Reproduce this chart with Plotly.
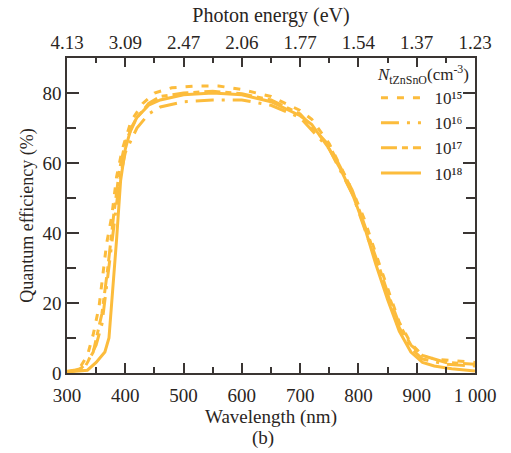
import plotly.graph_objects as go

# Quantum efficiency (%) vs wavelength (nm) for four tZnSnO doping levels
wl_15 = [300, 320, 335, 345, 355, 362, 368, 377, 385, 395, 410, 430, 450, 480, 520, 560, 600, 650, 700, 720, 750, 790, 810, 830, 850, 870, 890, 910, 930, 960, 1000]
qe_15 = [0.5, 1.0, 5, 11, 19, 29, 37, 45, 56, 64, 72, 77, 80, 81.5, 82, 82, 81, 79, 75, 72.5, 65.5, 52, 44, 34, 24, 14.5, 8.5, 5, 4, 3.5, 3]

wl_16 = [300, 320, 335, 350, 360, 370, 380, 390, 400, 420, 440, 460, 500, 550, 600, 650, 700, 750, 790, 830, 850, 870, 890, 910, 950, 1000]
qe_16 = [0.3, 0.8, 3, 8, 14, 28, 42, 55, 63, 70, 74, 76, 77.5, 78, 78, 76.5, 73, 64, 51, 32, 22, 13, 7, 4, 2.5, 2]

wl_17 = [300, 330, 345, 360, 370, 380, 390, 400, 420, 440, 460, 500, 550, 600, 650, 700, 750, 790, 830, 850, 870, 890, 910, 950, 1000]
qe_17 = [0.3, 1.5, 6, 17, 30, 45, 58, 66, 73, 77, 79, 80, 80.5, 79.8, 78, 74, 65, 52, 33, 23, 14, 8, 5, 3, 2.5]

wl_18 = [300, 320, 335, 350, 365, 372, 378, 385, 392, 400, 410, 420, 440, 460, 500, 550, 600, 650, 700, 720, 750, 770, 790, 810, 830, 850, 870, 890, 910, 930, 960, 1000]
qe_18 = [0.3, 0.5, 0.8, 3, 6, 10, 22, 38, 55, 64, 70, 73, 76.5, 78, 79.5, 80, 79.5, 77.5, 73.5, 71, 64, 58, 51, 42, 31, 21, 12, 6, 3, 2, 1.2, 0.6]

series_names = ["10¹⁵", "10¹⁶", "10¹⁷", "10¹⁸"]

# bottom axis: wavelength ticks; top axis: corresponding photon energies
wl_ticks = [300, 400, 500, 600, 700, 800, 900, 1000]
wl_labels = ["300", "400", "500", "600", "700", "800", "900", "1 000"]
ev_labels = ["4.13", "3.09", "2.47", "2.06", "1.77", "1.54", "1.37", "1.23"]
qe_ticks = [0, 20, 40, 60, 80]

color = "#FCBC3C"
axis_color = "#3a3533"
text_color = "#2a2522"
font_family = "Liberation Serif"

dashes = ["7px,9px", "18px,8px,3px,8px", "16px,5px,6px,5px", "solid"]
data = [(wl_15, qe_15), (wl_16, qe_16), (wl_17, qe_17), (wl_18, qe_18)]

fig = go.Figure()
for (x, y), name, dash in zip(data, series_names, dashes):
    # non-breaking spaces keep a small gap between legend line and label
    fig.add_trace(go.Scatter(x=x, y=y, mode="lines", name="\u00a0\u00a0" + name,
                             line=dict(color=color, width=3, dash=dash)))

# invisible trace so the top energy axis is drawn
fig.add_trace(go.Scatter(x=[300, 1000], y=[0, 0], xaxis="x2", mode="lines",
                         line=dict(width=0), showlegend=False, hoverinfo="skip"))

tick_font = dict(family=font_family, size=19, color=text_color)

fig.update_layout(
    width=511, height=453,
    margin=dict(l=67, r=36, t=58, b=80),
    paper_bgcolor="white", plot_bgcolor="white",
    font=dict(family=font_family, size=19, color=text_color),
    showlegend=True,
    xaxis=dict(
        range=[300, 1000], tickmode="array", tickvals=wl_ticks, ticktext=wl_labels,
        ticks="inside", ticklen=10, tickwidth=1.5, tickcolor=axis_color,
        ticklabelstandoff=4,
        minor=dict(dtick=50, ticks="inside", ticklen=6, tickwidth=1.5, tickcolor=axis_color),
        showline=True, linecolor=axis_color, linewidth=1.5, mirror=False,
        showgrid=False, zeroline=False, tickfont=tick_font,
        title=dict(text="Wavelength (nm)", font=dict(family=font_family, size=19), standoff=0),
    ),
    xaxis2=dict(
        range=[300, 1000], overlaying="x", side="top", anchor="y",
        tickmode="array", tickvals=wl_ticks, ticktext=ev_labels,
        ticks="inside", ticklen=9, tickwidth=1.5, tickcolor=axis_color,
        minor=dict(dtick=50, ticks="inside", ticklen=5, tickwidth=1.5, tickcolor=axis_color),
        showline=True, linecolor=axis_color, linewidth=1.5,
        showgrid=False, zeroline=False, tickfont=tick_font,
        title=dict(text="Photon energy (eV)", font=dict(family=font_family, size=20), standoff=4),
    ),
    yaxis=dict(
        range=[0, 90], tickmode="array", tickvals=qe_ticks,
        ticks="inside", ticklen=12, tickwidth=1.5, tickcolor=axis_color,
        minor=dict(dtick=10, ticks="inside", ticklen=9, tickwidth=1.5, tickcolor=axis_color),
        showline=True, linecolor=axis_color, linewidth=1.5, mirror="ticks",
        showgrid=False, zeroline=False, tickfont=tick_font,
        title=dict(text="Quantum efficiency (%)", font=dict(family=font_family, size=18), standoff=4),
    ),
    legend=dict(
        x=0.995, y=1.0, xanchor="right", yanchor="top",
        bgcolor="rgba(0,0,0,0)", borderwidth=0,
        font=dict(family=font_family, size=17),
        tracegroupgap=0, itemwidth=40,
        title=dict(text="<i>N</i><sub>tZnSnO</sub>(cm<sup>-3</sup>)",
                   font=dict(family=font_family, size=17)),
    ),
    annotations=[dict(text="(b)", xref="paper", yref="paper", x=0.48, y=-0.205,
                      xanchor="center", yanchor="middle", showarrow=False,
                      font=dict(family=font_family, size=19))],
)

fig.write_html("out.html")
